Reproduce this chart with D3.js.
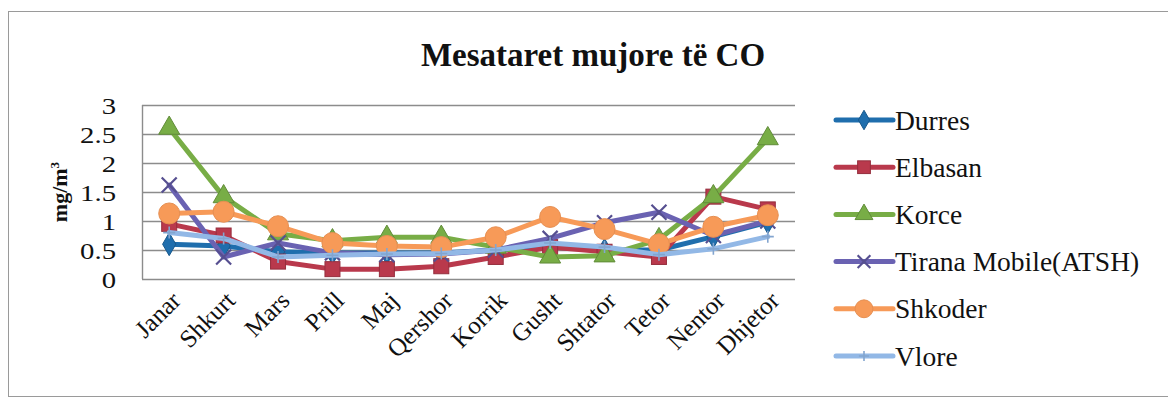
<!DOCTYPE html>
<html>
<head>
<meta charset="utf-8">
<script src="https://cdn.jsdelivr.net/npm/d3@7"></script>
<style>
  html, body { margin: 0; padding: 0; background: #fff; }
  svg { display: block; }
  text { font-family: "Liberation Serif", "Times New Roman", serif; fill: #111; }
</style>
</head>
<body>
<svg id="chart" width="1168" height="398"></svg>
<script>
// Monthly mean CO concentrations (mg/m³) per monitoring station
const months = ["Janar", "Shkurt", "Mars", "Prill", "Maj", "Qershor", "Korrik", "Gusht", "Shtator", "Tetor", "Nentor", "Dhjetor"];
const yTicks = [0, 0.5, 1, 1.5, 2, 2.5, 3];

const durres  = [0.60, 0.57, 0.47, 0.45, 0.45, 0.45, 0.50, 0.55, 0.50, 0.50, 0.73, 0.98];
const elbasan = [0.95, 0.75, 0.30, 0.17, 0.17, 0.22, 0.38, 0.55, 0.47, 0.38, 1.42, 1.20];
const korce   = [2.60, 1.42, 0.78, 0.66, 0.72, 0.72, 0.55, 0.38, 0.40, 0.68, 1.42, 2.42];
const tirana  = [1.62, 0.38, 0.62, 0.45, 0.42, 0.43, 0.50, 0.70, 0.97, 1.15, 0.75, 1.00];
const shkoder = [1.13, 1.16, 0.91, 0.62, 0.57, 0.55, 0.72, 1.07, 0.86, 0.60, 0.90, 1.10];
const vlore   = [0.80, 0.70, 0.38, 0.41, 0.43, 0.44, 0.50, 0.62, 0.55, 0.42, 0.52, 0.73];

const series = [
  { name: "Durres", values: durres, color: "#1f6ead", marker: "diamond" },
  { name: "Elbasan", values: elbasan, color: "#b9394c", marker: "square" },
  { name: "Korce", values: korce, color: "#78ad46", marker: "triangle" },
  { name: "Tirana Mobile(ATSH)", values: tirana, color: "#6a62b2", marker: "x" },
  { name: "Shkoder", values: shkoder, color: "#f79a58", marker: "circle" },
  { name: "Vlore", values: vlore, color: "#92b8e6", marker: "plus" }
];

const serif = "'Liberation Serif', 'Times New Roman', serif";
const svg = d3.select("#chart");

// outer chart frame
svg.append("rect")
  .attr("x", 8.5).attr("y", 11.5).attr("width", 1170).attr("height", 385)
  .attr("fill", "none").attr("stroke", "#9a9a9a").attr("stroke-width", 1);

const plot = { left: 142, right: 795, top: 105, bottom: 279 };

const x = d3.scaleBand().domain(months).range([plot.left, plot.right]);
const y = d3.scaleLinear().domain([0, 3]).range([plot.bottom, plot.top]);
const cx = m => x(m) + x.bandwidth() / 2;

// title
svg.append("text")
  .attr("x", 593).attr("y", 66)
  .attr("text-anchor", "middle")
  .style("font-size", "33px").style("font-weight", "bold")
  .text("Mesataret mujore të CO");

// horizontal gridlines
svg.append("g")
  .selectAll("line")
  .data(yTicks)
  .join("line")
  .attr("x1", plot.left).attr("x2", plot.right)
  .attr("y1", d => Math.round(y(d)) + 0.5).attr("y2", d => Math.round(y(d)) + 0.5)
  .attr("stroke", "#8c8c8c").attr("stroke-width", 1.4);

// left axis line
svg.append("line")
  .attr("x1", plot.left + 0.5).attr("x2", plot.left + 0.5)
  .attr("y1", plot.top).attr("y2", plot.bottom)
  .attr("stroke", "#8c8c8c").attr("stroke-width", 1.4);

// y axis tick labels (slightly widened glyphs)
const yAxis = d3.axisLeft(y).tickValues(yTicks).tickSize(0).tickPadding(0)
  .tickFormat(d => String(d));
const gy = svg.append("g").attr("transform", `translate(${plot.left},0)`).call(yAxis);
gy.select(".domain").remove();
gy.selectAll("text")
  .style("font-family", serif)
  .style("font-size", "23px").attr("fill", "#111")
  .attr("x", -26 / 1.25).attr("dy", "0.36em")
  .attr("transform", "scale(1.25,1)");

// y axis title
svg.append("text")
  .attr("transform", `translate(67,${(plot.top + plot.bottom) / 2}) rotate(-90)`)
  .attr("text-anchor", "middle")
  .style("font-size", "22px").style("font-weight", "bold")
  .html('mg/m<tspan dy="-8" style="font-size:13px">3</tspan>');

// x axis labels, rotated
const xAxis = d3.axisBottom(x).tickSize(0).tickPadding(0);
const gx = svg.append("g").attr("transform", `translate(0,${plot.bottom})`).call(xAxis);
gx.select(".domain").remove();
gx.selectAll(".tick text")
  .style("font-family", serif)
  .style("font-size", "25px").attr("fill", "#111")
  .attr("text-anchor", "end")
  .attr("dy", null).attr("y", null)
  .attr("transform", "translate(13,23) rotate(-45)");

// marker shapes
function drawMarker(g, type, color, size) {
  const s = size;
  const dark = d3.color(color).darker(0.6);
  if (type === "diamond") {
    g.append("path").attr("d", d3.symbol(d3.symbolDiamond, s * s * 0.9)())
      .attr("fill", color).attr("stroke", dark).attr("stroke-width", 1);
  } else if (type === "square") {
    g.append("rect").attr("x", -s / 2).attr("y", -s / 2).attr("width", s).attr("height", s)
      .attr("fill", color).attr("stroke", dark).attr("stroke-width", 1);
  } else if (type === "triangle") {
    g.append("path").attr("d", d3.symbol(d3.symbolTriangle, s * s * 0.75)())
      .attr("fill", color).attr("stroke", dark).attr("stroke-width", 1);
  } else if (type === "circle") {
    g.append("circle").attr("r", s / 2).attr("fill", color).attr("stroke", d3.color(color).darker(0.2)).attr("stroke-width", 1);
  } else if (type === "x") {
    const h = s / 2;
    g.append("path").attr("d", `M${-h},${-h}L${h},${h}M${-h},${h}L${h},${-h}`)
      .attr("stroke", dark).attr("stroke-width", 2.2).attr("fill", "none");
  } else if (type === "plus") {
    const h = s / 2;
    g.append("path").attr("d", `M0,${-h}L0,${h}M${-h},0L${h},0`)
      .attr("stroke", d3.color(color).darker(0.3)).attr("stroke-width", 1.6).attr("fill", "none");
  }
}

const markerSize = { diamond: 13, square: 15, triangle: 16, x: 15, circle: 21, plus: 12 };

const line = d3.line().x((d, i) => cx(months[i])).y(d => y(d));

series.forEach(s => {
  const g = svg.append("g");
  g.append("path")
    .datum(s.values)
    .attr("d", line)
    .attr("fill", "none")
    .attr("stroke", s.color)
    .attr("stroke-width", 5)
    .attr("stroke-linejoin", "round")
    .attr("stroke-linecap", "round");
  s.values.forEach((v, i) => {
    const mg = g.append("g").attr("transform", `translate(${cx(months[i])},${y(v)})`);
    drawMarker(mg, s.marker, s.color, markerSize[s.marker]);
  });
});

// legend
const legend = svg.append("g");
const legendY = d3.scalePoint().domain(series.map(s => s.name)).range([120, 356]);
series.forEach(s => {
  const ly = legendY(s.name);
  const g = legend.append("g");
  g.append("line")
    .attr("x1", 836).attr("x2", 893).attr("y1", ly).attr("y2", ly)
    .attr("stroke", s.color).attr("stroke-width", 5).attr("stroke-linecap", "round");
  const mg = g.append("g").attr("transform", `translate(864,${ly})`);
  drawMarker(mg, s.marker, s.color, markerSize[s.marker] * 0.85);
  g.append("text")
    .attr("x", 895).attr("y", ly).attr("dy", "0.35em")
    .style("font-size", "27.5px")
    .text(s.name);
});
</script>
</body>
</html>
